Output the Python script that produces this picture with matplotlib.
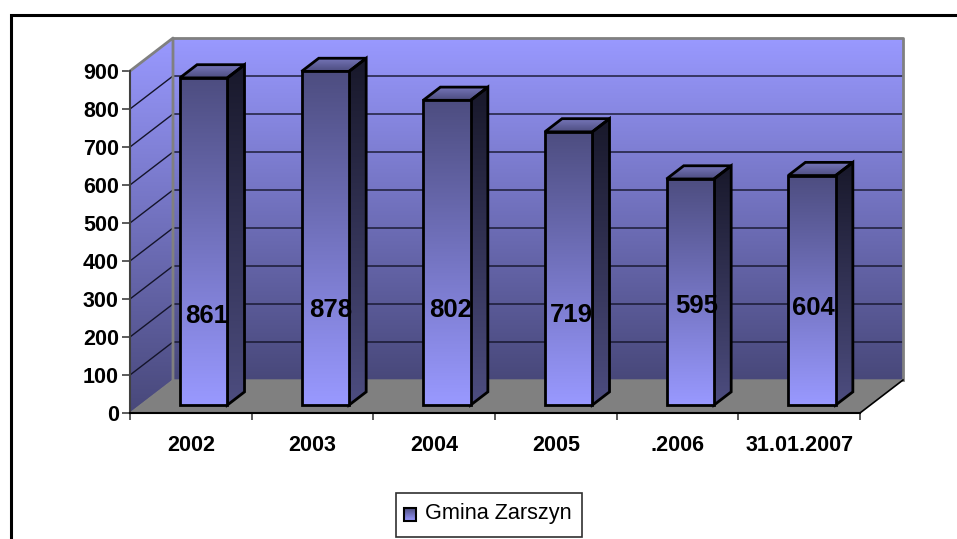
import numpy as np
from matplotlib import pyplot as plt
from matplotlib.colors import LinearSegmentedColormap
from matplotlib.patches import Polygon, Rectangle

plt.rcParams['font.family'] = ['Liberation Sans', 'DejaVu Sans']

# dane
years = ['2002', '2003', '2004', '2005', '.2006', '31.01.2007']
values = [861, 878, 802, 719, 595, 604]
y_ticks = [0, 100, 200, 300, 400, 500, 600, 700, 800, 900]
series_name = 'Gmina Zarszyn'

# polozenie podpisow na slupkach (przesuniete recznie w oryginale)
label_x = [0.633, 1.652, 2.638, 3.625, 4.66, 5.614]
label_heights = [255, 270, 270, 258, 282, 277]

W, H = 957, 539
LEFT, RIGHT, BOTTOM, TOP = 130, 860, 413, 71    # przednia plaszczyzna w pikselach

# glebokosc 3D w jednostkach osi
DEPTH_X = 43 / ((RIGHT - LEFT) / 6)
DEPTH_Y = 33 / ((BOTTOM - TOP) / 900)

BAR_START = 0.325
BAR_WIDTH = 0.39
BAR_DEPTH_FRONT = 0.24
BAR_DEPTH_BACK = 0.64

LIGHT = '#9999ff'
MID = '#4d4d80'
DARK = '#18182a'


def project(x, y, d):
    return x + d * DEPTH_X, y + d * DEPTH_Y


def grad_poly(ax, verts, c_top, c_bottom, zorder, edge=None, lw=0):
    # wielokat z gradientem pionowym, obrazek przyciety do wielokata
    verts = np.array(verts)
    cmap = LinearSegmentedColormap.from_list('g', [c_bottom, c_top])
    img = ax.imshow(np.linspace(1, 0, 256).reshape(-1, 1), cmap=cmap, aspect='auto', zorder=zorder,
                    extent=(verts[:, 0].min(), verts[:, 0].max(), verts[:, 1].min(), verts[:, 1].max()))
    patch = Polygon(verts, closed=True, transform=ax.transData, facecolor='none', edgecolor='none')
    ax.add_patch(patch)
    patch.set_clip_on(False)
    img.set_clip_box(fig.bbox)
    img.set_clip_path(patch)
    if edge is not None:
        ax.add_patch(Polygon(verts, closed=True, facecolor='none', edgecolor=edge, linewidth=lw,
                             zorder=zorder + 0.1, clip_on=False, joinstyle='miter'))


def draw_bar(ax, x0, value):
    x1 = x0 + BAR_WIDTH
    a = project(x0, 0, BAR_DEPTH_FRONT)
    b = project(x1, 0, BAR_DEPTH_FRONT)
    c = project(x1, value, BAR_DEPTH_FRONT)
    d = project(x0, value, BAR_DEPTH_FRONT)
    e = project(x1, 0, BAR_DEPTH_BACK)
    f = project(x1, value, BAR_DEPTH_BACK)
    g = project(x0, value, BAR_DEPTH_BACK)
    grad_poly(ax, [b, e, f, c], DARK, MID, 5, 'black', 2.0)
    grad_poly(ax, [d, c, f, g], '#7878bc', MID, 5, 'black', 2.0)
    grad_poly(ax, [a, b, c, d], MID, LIGHT, 6, 'black', 2.0)


fig = plt.figure(figsize=(W / 100, H / 100), dpi=100, facecolor='white')
ax = fig.add_axes([LEFT / W, 1 - BOTTOM / H, (RIGHT - LEFT) / W, (BOTTOM - TOP) / H])
ax.set_facecolor('none')
ax.set_xlim(0, 6)
ax.set_ylim(0, 900)

# ramka calego wykresu (wychodzi poza obrazek z prawej i od dolu)
fig.add_artist(Rectangle((10.5 / W, -0.05), 1.1, 1 - 14.5 / H + 0.05, transform=fig.transFigure,
                         facecolor='none', edgecolor='black', linewidth=2.2))

# sciana tylna, boczna i podloga
grad_poly(ax, [project(0, 0, 1), project(6, 0, 1), project(6, 900, 1), project(0, 900, 1)], LIGHT, '#48487a', 1)
grad_poly(ax, [project(0, 0, 0), project(0, 0, 1), project(0, 900, 1), project(0, 900, 0)], LIGHT, '#48487a', 1)
ax.add_patch(Polygon([project(0, 0, 0), project(6, 0, 0), project(6, 0, 1), project(0, 0, 1)],
                     facecolor='#808080', edgecolor='none', zorder=2, clip_on=False))

# linie siatki
for t in y_ticks[1:-1]:
    x_a, y_a = project(0, t, 0)
    x_b, y_b = project(0, t, 1)
    x_c, y_c = project(6, t, 1)
    ax.plot([x_a, x_b, x_c], [y_a, y_b, y_c], color='#14142a', lw=1.0, zorder=3, clip_on=False)

# krawedzie scian
xs, ys = zip(project(0, 0, 1), project(0, 900, 1), project(0, 900, 0))
ax.plot(xs, ys, color='#808080', lw=2.0, zorder=3, clip_on=False)
xs, ys = zip(project(0, 900, 1), project(6, 900, 1), project(6, 0, 1))
ax.plot(xs, ys, color='#808080', lw=2.0, zorder=3, clip_on=False)
xs, ys = zip(project(0, 0, 0), project(0, 0, 1), project(6, 0, 1))
ax.plot(xs, ys, color='#808080', lw=1.0, zorder=3, clip_on=False)
xs, ys = zip(project(6, 0, 0), project(6, 0, 1))
ax.plot(xs, ys, color='black', lw=1.2, zorder=3, clip_on=False)

for i, val in enumerate(values):
    draw_bar(ax, i + BAR_START, val)
    ax.text(label_x[i], label_heights[i], str(val), fontsize=18.5, fontweight='bold', color='black',
            ha='center', va='center', zorder=8, clip_on=False)

ax.set_xlim(0, 6)
ax.set_ylim(0, 900)

# osie
for name in ['top', 'right']:
    ax.spines[name].set_visible(False)
ax.spines['left'].set_color('#404040')
ax.spines['left'].set_linewidth(1.5)
ax.spines['bottom'].set_color('black')
ax.spines['bottom'].set_linewidth(1.5)
ax.spines['left'].set_zorder(9)
ax.spines['bottom'].set_zorder(9)
ax.set_yticks(y_ticks)
ax.set_yticklabels([str(t) for t in y_ticks], fontsize=15.5, fontweight='bold')
ax.set_xticks(range(7))
ax.set_xticklabels([])
ax.set_xticks(np.arange(6) + 0.5, minor=True)
ax.set_xticklabels(years, minor=True, fontsize=15.5, fontweight='bold')
ax.tick_params(axis='x', which='minor', length=0, pad=16)
ax.tick_params(axis='x', which='major', length=5, width=1.2, color='#404040')
ax.tick_params(axis='y', length=6, width=1.2, color='#404040', pad=2)

# legenda
leg_ax = fig.add_axes([0, 0, 1, 1], facecolor='none')
leg_ax.axis('off')
leg_ax.add_patch(Rectangle((396, 492.5), 186, 44.5, facecolor='white', edgecolor='#303030', linewidth=1.2))
leg_ax.imshow(np.linspace(0, 1, 64).reshape(-1, 1), aspect='auto', extent=(404, 416, 521, 508),
              cmap=LinearSegmentedColormap.from_list('l', [MID, LIGHT]), zorder=3)
leg_ax.add_patch(Rectangle((404, 508), 12, 13, facecolor='none', edgecolor='black', linewidth=1.5, zorder=4))
leg_ax.set_xlim(0, W)
leg_ax.set_ylim(H, 0)
leg_ax.text(425, 514, series_name, fontsize=15.6, color='black', ha='left', va='center')

fig.savefig('out.png', dpi=100)
